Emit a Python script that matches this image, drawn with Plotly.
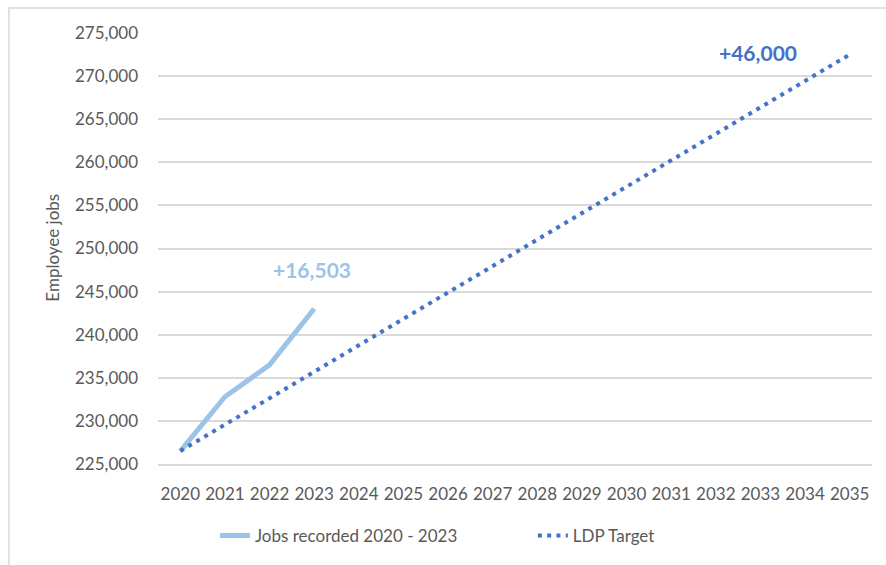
import plotly.graph_objects as go

years = [str(y) for y in range(2020, 2036)]
jobs_years = ["2020", "2021", "2022", "2023"]
jobs_values = [226500, 232800, 236500, 243003]
target_values = [226500, 229567, 232633, 235700, 238767, 241833, 244900, 247967,
                 251033, 254100, 257167, 260233, 263300, 266367, 269433, 272500]
y_ticks = list(range(225000, 275001, 5000))

FONT = "Lato, Calibri, Carlito, sans-serif"
GREY = "#595959"

fig = go.Figure()
fig.add_trace(go.Scatter(
    x=jobs_years, y=jobs_values, mode="lines",
    name="Jobs recorded 2020 - 2023", legend="legend",
    line=dict(color="#9DC3E6", width=5),
))
fig.add_trace(go.Scatter(
    x=years, y=target_values, mode="lines",
    name="LDP Target", legend="legend2",
    line=dict(color="#4472C4", width=4, dash="4px,5.3px"),
))

legend_common = dict(orientation="h", xanchor="left", y=-0.164, yanchor="middle",
                     font=dict(size=17, color=GREY), bgcolor="rgba(0,0,0,0)")

fig.update_layout(
    width=886, height=565,
    margin=dict(l=158, r=14, t=33, b=100),
    paper_bgcolor="white", plot_bgcolor="white",
    font=dict(family=FONT, size=17, color=GREY),
    showlegend=True,
    legend=dict(x=0.0798, **legend_common),
    legend2=dict(x=0.525, **legend_common),
    xaxis=dict(type="category", categoryorder="array", categoryarray=years,
               range=[-0.5, len(years) - 0.5],
               showgrid=False, showline=True, linecolor="#D9D9D9", linewidth=1.5,
               ticks="", ticklabelstandoff=14, tickfont=dict(size=17, color=GREY)),
    yaxis=dict(range=[225000, 275000], tickvals=y_ticks, tickformat=",",
               showgrid=True, gridcolor="#D9D9D9", gridwidth=1.5,
               zeroline=False, showline=False, ticks="", ticklabelstandoff=19,
               tickfont=dict(size=17, color=GREY)),
    annotations=[
        dict(text="Employee jobs", xref="paper", yref="paper", x=-0.147, y=0.502,
             xanchor="center", yanchor="middle",
             textangle=-90, showarrow=False, font=dict(size=17, color=GREY)),
        dict(text="<b>+16,503</b>", xref="x", yref="y", x=2.95, y=247570,
             showarrow=False, font=dict(size=21, color="#9DC3E6")),
        dict(text="<b>+46,000</b>", xref="x", yref="y", x=12.95, y=272685,
             showarrow=False, font=dict(size=21, color="#4472C4")),
    ],
    shapes=[
        dict(type="rect", xref="paper", yref="paper", x0=-0.2087, y0=-0.35, x1=1.2, y1=1.058,
             line=dict(color="#D9D9D9", width=1.5), fillcolor="rgba(0,0,0,0)", layer="below"),
    ],
)

fig.write_html("out.html", config={"displayModeBar": False},
               post_script="document.body.style.margin='0';")
